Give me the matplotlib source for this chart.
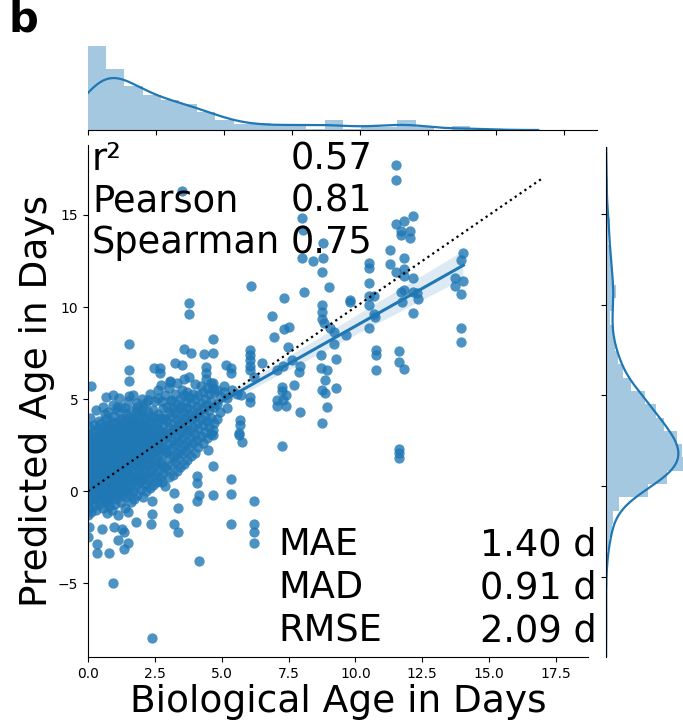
import numpy as np
import matplotlib
matplotlib.use("Agg")
import matplotlib.pyplot as plt
import seaborn as sns

# dense cluster: columns of biological age, with the predicted ages read in each column
core_cols_x = [0.00, 0.03, 0.07, 0.12, 0.16, 0.21, 0.26, 0.31, 0.36, 0.41, 0.46, 0.50, 0.55, 0.59, 0.63, 0.67,
               0.71, 0.75, 0.80, 0.85, 0.90, 0.96, 1.01, 1.07, 1.13, 1.19, 1.25, 1.31,
               1.37, 1.43, 1.49, 1.55, 1.61, 1.67, 1.73, 1.79, 1.85, 1.91, 1.97, 2.02,
               2.06, 2.12, 2.18, 2.25, 2.31, 2.37, 2.44, 2.50, 2.57, 2.63, 2.69,
               2.75, 2.82, 2.89, 2.96, 3.03, 3.10, 3.17, 3.24, 3.31, 3.37,
               3.44, 3.51, 3.58, 3.65, 3.72, 3.79, 3.86, 3.93, 4.00, 4.06,
               4.13, 4.21, 4.29, 4.37, 4.45, 4.53, 4.61, 4.70, 4.82, 4.93, 5.18]
core_cols_y = [
    [-1.3, -0.6, -0.2, 0.1, 0.35, 0.6, 0.85, 1.0, 1.25, 1.5, 1.8, 2.15, 2.6, 3.1],
    [-0.9, -0.3, 0.2, 0.5, 0.7, 0.95, 1.2, 1.4, 1.65, 2.0, 2.4, 3.5],
    [-0.5, 0.0, 0.3, 0.55, 0.8, 1.05, 1.3, 1.55, 1.9, 2.3, 2.8, 4.0],
    [-1.1, -0.25, 0.15, 0.45, 0.75, 0.9, 1.15, 1.45, 1.7, 2.1, 2.55],
    [-0.4, 0.05, 0.4, 0.65, 0.9, 1.2, 1.35, 1.6, 1.95, 2.35, 3.0],
    [-0.8, -0.15, 0.25, 0.5, 0.8, 1.0, 1.3, 1.55, 1.85, 2.2, 2.7, 3.6],
    [-0.35, 0.1, 0.45, 0.7, 0.95, 1.25, 1.5, 1.75, 2.05, 2.5, 3.3],
    [-1.0, -0.2, 0.3, 0.6, 0.85, 1.1, 1.4, 1.65, 2.0, 2.45, 2.9, 4.4],
    [-0.55, 0.0, 0.35, 0.75, 1.0, 1.2, 1.5, 1.8, 2.15, 2.6, 3.4],
    [-0.3, 0.2, 0.55, 0.8, 1.05, 1.35, 1.6, 1.9, 2.3, 2.8, 3.8],
    [-0.7, -0.05, 0.4, 0.7, 0.95, 1.2, 1.45, 1.75, 2.1, 2.5, 3.1],
    [-0.2, 0.3, 0.6, 0.9, 1.15, 1.4, 1.7, 2.0, 2.4, 2.95, 3.7],
    [-0.9, 0.0, 0.45, 0.75, 1.0, 1.3, 1.6, 1.95, 2.3, 2.75, 3.3, 4.6],
    [-0.4, 0.15, 0.5, 0.85, 1.1, 1.4, 1.8, 2.2, 2.6, 3.2],
    [-0.1, 0.35, 0.7, 1.0, 1.3, 1.55, 1.9, 2.35, 2.85, 3.5, 4.2],
    [-0.6, 0.1, 0.55, 0.9, 1.2, 1.5, 1.85, 2.25, 2.7, 3.0, 3.9, 5.1],
    [-1.2, -0.3, 0.3, 0.75, 1.1, 1.45, 1.8, 2.2, 2.7, 3.3],
    [-0.5, 0.2, 0.6, 1.0, 1.35, 1.7, 2.1, 2.6, 3.6, 4.3],
    [-0.8, 0.0, 0.5, 0.9, 1.25, 1.6, 2.0, 2.45, 3.0],
    [-0.2, 0.4, 0.85, 1.2, 1.55, 1.95, 2.35, 2.9, 3.8],
    [-1.0, -0.1, 0.55, 1.0, 1.4, 1.85, 2.3, 2.8, 3.4],
    [-0.4, 0.3, 0.8, 1.3, 1.7, 2.15, 2.65, 3.2, 4.1],
    [-0.7, 0.1, 0.65, 1.15, 1.6, 2.05, 2.5, 3.0, 3.7],
    [-0.1, 0.5, 1.0, 1.45, 1.9, 2.4, 2.95, 3.5, 4.4],
    [-1.3, -0.3, 0.4, 0.95, 1.4, 1.85, 2.35, 2.85, 3.3],
    [0.0, 0.7, 1.2, 1.7, 2.2, 2.7, 3.25, 3.9],
    [-0.6, 0.3, 0.9, 1.5, 2.0, 2.55, 3.1, 3.6, 4.6],
    [-0.2, 0.6, 1.1, 1.65, 2.15, 2.75, 3.4, 4.0],
    [-0.9, 0.1, 0.8, 1.4, 1.9, 2.5, 3.1, 3.8, 4.5],
    [-0.3, 0.5, 1.1, 1.7, 2.25, 2.8, 3.5, 4.2],
    [-1.1, -0.1, 0.7, 1.3, 1.85, 2.4, 3.0, 3.6, 4.9],
    [0.2, 0.95, 1.55, 2.1, 2.7, 3.3, 4.0],
    [-0.6, 0.4, 1.2, 1.8, 2.35, 2.95, 3.7, 4.4],
    [0.0, 0.8, 1.5, 2.05, 2.6, 3.2, 3.9, 5.2],
    [-0.4, 0.6, 1.35, 1.95, 2.55, 3.15, 3.8],
    [0.3, 1.0, 1.7, 2.3, 2.9, 3.5, 4.3],
    [-0.2, 0.75, 1.45, 2.15, 2.75, 3.4, 4.1, 4.8],
    [0.5, 1.25, 1.9, 2.5, 3.1, 3.75],
    [0.1, 0.9, 1.65, 2.35, 3.0, 3.6, 4.4],
    [0.6, 1.4, 2.1, 2.8, 3.45, 4.2, 5.0],
    [-0.3, 0.7, 1.5, 2.2, 2.9, 3.6, 4.5],
    [0.4, 1.2, 1.9, 2.6, 3.3, 4.0],
    [0.0, 1.0, 1.75, 2.45, 3.1, 3.9, 4.8],
    [0.6, 1.4, 2.1, 2.8, 3.5, 4.3],
    [0.2, 1.1, 1.85, 2.6, 3.3, 4.1, 5.3],
    [0.8, 1.6, 2.35, 3.05, 3.8],
    [0.35, 1.3, 2.05, 2.8, 3.55, 4.4],
    [0.9, 1.75, 2.5, 3.2, 4.0, 4.9],
    [0.5, 1.45, 2.25, 3.0, 3.7],
    [1.1, 1.95, 2.7, 3.45, 4.2, 5.5],
    [0.7, 1.6, 2.4, 3.15, 3.95],
    [0.5, 1.5, 2.4, 3.2, 4.0, 4.9],
    [1.0, 2.0, 2.8, 3.6, 4.5],
    [0.3, 1.3, 2.3, 3.1, 3.9, 5.2],
    [1.2, 2.15, 2.95, 3.8, 4.6],
    [0.8, 1.8, 2.6, 3.45, 4.3, 5.6],
    [1.4, 2.35, 3.2, 4.1, 4.9],
    [0.9, 1.9, 2.8, 3.65, 4.5],
    [1.6, 2.5, 3.4, 4.25, 5.3],
    [1.1, 2.1, 3.0, 3.9, 4.75, 5.9],
    [1.8, 2.75, 3.6, 4.5],
    [1.3, 2.3, 3.2, 4.1, 5.0],
    [2.0, 2.9, 3.75, 4.6, 5.5],
    [1.5, 2.5, 3.4, 4.3, 5.2, 6.1],
    [2.2, 3.1, 4.0, 4.85],
    [1.7, 2.7, 3.6, 4.5, 5.4],
    [2.4, 3.3, 4.2, 5.1, 6.2],
    [1.9, 2.95, 3.9, 4.8],
    [2.6, 3.5, 4.4, 5.3],
    [2.1, 3.1, 4.05, 5.0, 5.8],
    [2.8, 3.7, 4.6],
    [2.4, 3.4, 4.3, 5.2],
    [3.0, 3.9, 4.8, 5.7],
    [2.6, 3.6, 4.5, 5.4],
    [3.2, 4.1, 5.0],
    [2.9, 3.8, 4.7, 5.6],
    [3.5, 4.4, 5.3],
    [3.1, 4.0, 4.9, 5.9],
    [3.7, 4.6, 5.4],
    [3.9, 4.75, 5.5],
    [4.3, 5.15],
    [4.5, 5.05],
]

# points outside the dense cluster, read one by one
outer_bio = [3.53, 8.00, 8.05, 8.80, 8.00, 8.40, 8.80, 8.75, 6.10, 7.33, 8.07, 9.00, 3.78, 3.78,
             8.75, 8.75, 6.90, 1.54, 4.68, 7.33, 7.50, 6.95, 8.75, 8.82, 9.05, 3.60, 3.84, 3.26,
             3.53, 4.34, 4.68, 1.54, 1.54, 2.45, 2.70, 2.69, 3.06, 0.11, 4.40, 4.43, 4.40, 5.15,
             5.36, 5.34, 6.05, 6.05, 6.05, 6.05, 6.05, 6.20, 6.52, 7.30, 7.62, 7.92, 7.90, 8.70,
             8.70, 8.88, 7.49, 7.08,
             11.52, 11.52, 11.52, 11.83, 12.15, 11.70, 12.03, 11.70, 12.03, 11.28, 11.28, 10.50,
             10.50, 11.83, 11.52, 11.83, 11.83, 12.15, 10.50, 10.50, 10.68, 9.81, 9.81, 10.50,
             11.70, 11.83, 12.15, 12.32, 12.36, 11.74, 12.17, 10.68, 10.75, 10.50, 9.65, 9.19,
             9.19, 9.28, 8.95, 9.26, 8.95, 10.77, 10.77, 10.77, 11.62, 11.62, 11.83, 11.62,
             11.62, 11.62, 14.04, 13.96, 13.73, 13.73, 14.04, 13.96, 13.96, 13.96,
             4.69, 4.69, 5.09, 5.09, 5.40, 5.56, 5.71, 6.06, 6.06, 7.26, 7.26, 7.39, 7.30,
             7.08, 7.08, 7.39, 7.70, 8.75, 8.88, 7.92, 8.75, 5.67, 5.67, 5.65, 5.65, 5.77,
             4.69, 4.69, 4.50, 7.24, 4.69, 5.36, 5.36, 4.69, 6.21, 5.36, 6.21, 6.21, 6.21,
             4.15, 0.92, 2.38, 4.07, 4.07, 4.15, 4.07, 3.22, 3.35, 3.20, 3.35, 2.38, 2.38,
             2.35, 1.79, 1.35, 1.48, 1.35, 1.11, 0.98, 0.51, 0.32, 0.32, 0.77, 0.00, 0.05,
             1.29, 1.52, 2.72, 3.06, 0.92, 1.17, 2.23, 2.60, 3.10, 1.85, 0.92, 1.10]
outer_pred = [16.30, 14.85, 14.20, 13.50, 12.65, 12.50, 12.65, 11.90, 11.15, 10.50, 10.80, 11.10,
              10.20, 9.65, 10.10, 9.75, 9.50, 8.00, 8.25, 8.80, 8.90, 8.40, 9.33, 9.15, 8.85,
              7.70, 7.50, 6.97, 6.85, 7.45, 7.50, 6.60, 6.00, 6.70, 6.70, 6.40, 6.00, 5.70,
              6.75, 6.40, 6.10, 6.85, 6.70, 6.40, 7.66, 7.40, 7.10, 6.80, 6.58, 6.20, 6.94,
              6.80, 7.10, 6.80, 6.45, 7.40, 6.67, 6.03, 7.84, 6.58,
              17.70, 16.90, 14.50, 14.70, 14.96, 14.15, 14.15, 13.90, 13.77, 13.10, 12.34, 12.42,
              12.10, 12.68, 11.90, 12.06, 11.70, 11.60, 11.30, 10.60, 10.60, 10.38, 10.25, 10.10,
              10.83, 10.92, 10.80, 10.74, 10.43, 10.29, 9.70, 9.62, 9.47, 8.89, 8.48, 8.66,
              7.97, 7.16, 6.58, 5.60, 4.55, 7.66, 7.39, 6.58, 7.63, 7.03, 6.63, 2.32,
              2.05, 1.78, 12.92, 12.55, 11.60, 11.16, 11.41, 10.70, 8.89, 8.11,
              5.89, 5.58, 5.70, 5.39, 5.48, 5.30, 5.20, 5.11, 4.84, 5.67, 5.43, 5.22, 4.95,
              4.95, 4.62, 4.62, 5.76, 5.49, 5.31, 4.31, 3.73, 3.86, 3.59, 3.14, 3.04, 2.65,
              3.32, 3.04, 2.23, 2.45, 1.38, 0.65, -0.16, -0.18, -0.53, -1.79, -1.79, -2.21, -2.81,
              -3.79, -4.96, -7.95, 0.82, 0.47, -0.18, -0.53, -0.07, -0.91, -1.76, -2.24, -0.54, -1.21,
              -1.79, -1.67, -2.21, -2.79, -3.15, -2.66, -1.94, -2.07, -2.84, -3.33, -3.38, -2.48, -1.94,
              -2.03, 5.16, 5.76, 5.94, 5.22, 5.04, 4.95, 5.04, 4.95, 4.58, 4.67, 4.58]

upper_names = ["r²", "Pearson", "Spearman"]
upper_values = ["0.57", "0.81", "0.75"]
lower_names = ["MAE", "MAD", "RMSE"]
lower_values = ["1.40 d", "0.91 d", "2.09 d"]

bio_age = [x for x, ys in zip(core_cols_x, core_cols_y) for _ in ys] + outer_bio
pred_age = [y for ys in core_cols_y for y in ys] + outer_pred
bio_age = np.array(bio_age)
pred_age = np.array(pred_age)

W, H = 683, 723
fig = plt.figure(figsize=(W / 100, H / 100), dpi=100)

def px_box(x0, y0, x1, y1):
    # pixel box (top-left origin) -> figure fraction rect
    return [x0 / W, 1 - y1 / H, (x1 - x0) / W, (y1 - y0) / H]

ax = fig.add_axes(px_box(88, 145, 588, 657))
ax_top = fig.add_axes(px_box(88, 42, 597, 130))
ax_right = fig.add_axes(px_box(606, 147, 690, 657))

sns.regplot(x=bio_age, y=pred_age, ax=ax, color="#1f77b4", seed=0,
            scatter_kws={"s": 55, "alpha": 0.8, "linewidths": 0},
            line_kws={"lw": 2.2})
ax.plot([0, 17], [0, 17], ls=":", color="black", lw=1.6)
ax.set_xlim(0, 18.7)
ax.set_ylim(-9.0, 18.8)
ax.set_xticks([0, 2.5, 5, 7.5, 10, 12.5, 15, 17.5])
ax.set_yticks([-5, 0, 5, 10, 15])
ax.set_xlabel("Biological Age in Days", fontsize=27, labelpad=2)
ax.set_ylabel("Predicted Age in Days", fontsize=27, labelpad=2)
for s in ["top", "right"]:
    ax.spines[s].set_visible(False)

# marginal distributions
ax_top.hist(bio_age, bins=21, density=True, color="#1f77b4", alpha=0.4)
sns.kdeplot(x=bio_age, ax=ax_top, color="#1f77b4", lw=1.6)
ax_top.set_xlim(0, 18.7)
ax_top.set_ylim(bottom=0)
ax_top.set_xticks([0, 2.5, 5, 7.5, 10, 12.5, 15, 17.5])
ax_top.tick_params(labelbottom=False, left=False, labelleft=False)
ax_top.set_xlabel("")
ax_top.set_ylabel("")
for s in ["top", "right", "left"]:
    ax_top.spines[s].set_visible(False)

ax_right.hist(pred_age, bins=35, density=True, color="#1f77b4", alpha=0.4,
              orientation="horizontal")
sns.kdeplot(y=pred_age, ax=ax_right, color="#1f77b4", lw=1.6)
ax_right.set_ylim(-9.43, 18.7)
ax_right.set_xlim(left=0)
ax_right.set_yticks([-5, 0, 5, 10, 15])
ax_right.tick_params(labelleft=False, bottom=False, labelbottom=False)
ax_right.set_xlabel("")
ax_right.set_ylabel("")
for s in ["top", "right", "bottom"]:
    ax_right.spines[s].set_visible(False)

# statistics text
for i, (name, val) in enumerate(zip(upper_names, upper_values)):
    yb = 170 + i * 41.5
    fig.text(92 / W, 1 - yb / H, name, fontsize=26.5, va="baseline", ha="left")
    fig.text(291 / W, 1 - yb / H, val, fontsize=26.5, va="baseline", ha="left")
for i, (name, val) in enumerate(zip(lower_names, lower_values)):
    yb = 555 + i * 43.5
    fig.text(278 / W, 1 - yb / H, name, fontsize=26.5, va="baseline", ha="left")
    fig.text(597 / W, 1 - yb / H, val, fontsize=26.5, va="baseline", ha="right")

fig.text(9 / W, 1 - 32 / H, "b", fontsize=30, fontweight="bold", va="baseline", ha="left")

fig.savefig("out.png", dpi=100)
